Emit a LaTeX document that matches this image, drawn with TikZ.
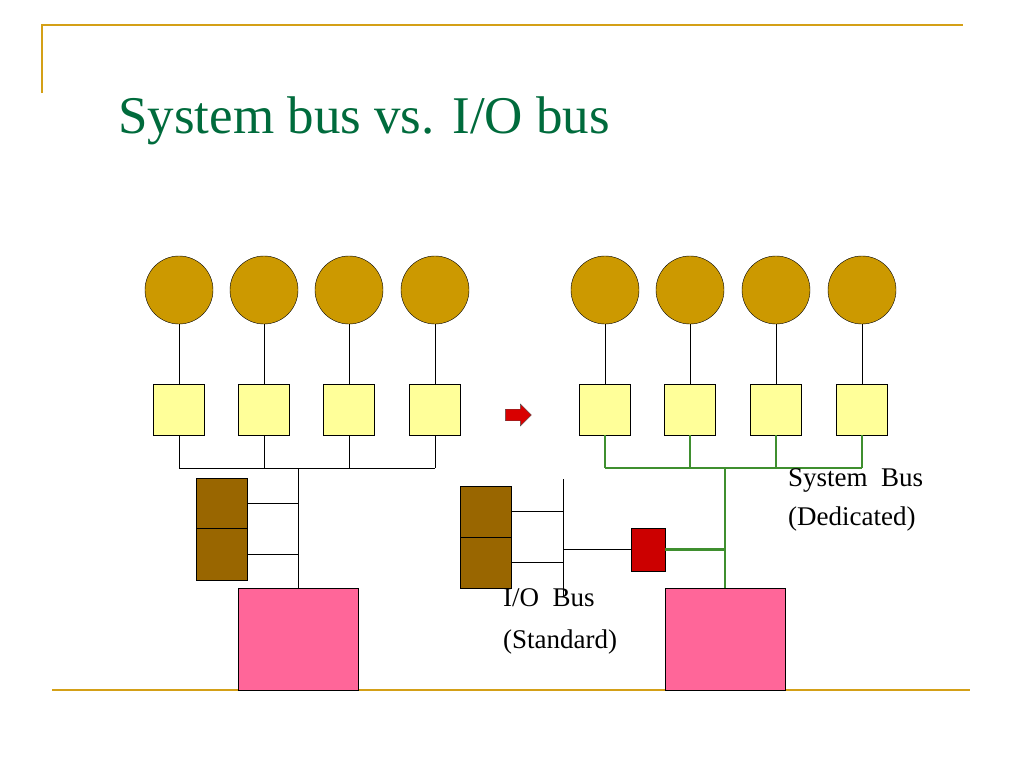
\documentclass[tikz,border=0pt]{standalone}
\usepackage{fontspec}
\setmainfont{Liberation Serif}
\usetikzlibrary{shapes.arrows, calc}
\definecolor{gold}{HTML}{CC9900}
\definecolor{pale}{HTML}{FFFF99}
\definecolor{brownish}{HTML}{996600}
\definecolor{pinky}{HTML}{FF6699}
\definecolor{titlegreen}{HTML}{006B3C}
\definecolor{busgreen}{HTML}{3F8F2F}
\definecolor{rule}{HTML}{D4A017}
\tikzstyle{cpu} = [circle, draw=black, fill=gold, minimum size=68pt, inner sep=0pt]
\tikzstyle{ctl} = [rectangle, draw=black, fill=pale, minimum size=51pt, inner sep=0pt]
\tikzstyle{dev} = [rectangle, draw=black, fill=brownish, minimum width=51pt, minimum height=51pt, inner sep=0pt]
\tikzstyle{mem} = [rectangle, draw=black, fill=pinky, minimum width=120pt, minimum height=102pt, inner sep=0pt]
\tikzstyle{bus} = [draw=busgreen, line width=2.2pt]
\tikzstyle{wire} = [thin, black]
\tikzstyle{lbl} = [font=\fontsize{27}{39}\selectfont, anchor=base west, inner sep=0pt]
\begin{document}
\begin{tikzpicture}[x=1pt, y=-1pt]
        \useasboundingbox (0,0) rectangle (1024,768);
        % slide frame
        \draw[rule, line width=1.5pt] (42,93) -- (42,25) -- (963,25);
        \draw[rule, line width=1.5pt] (52,690) -- (970,690);
        \node (T) [anchor=base west, inner sep=0pt, text=titlegreen, font=\fontsize{53}{53}\selectfont] at (118,133) {System bus vs. I/O bus};

        % left: single bus
        \foreach \i/\x in {1/179, 2/264, 3/349, 4/435} {
            \node (LC\i) [cpu] at (\x,290) {};
            \node (LS\i) [ctl] at (\x,409.5) {};
            \draw [wire] (LC\i) -- (LS\i);
            \coordinate (LB\i) at (\x,468);
            \draw [wire] (LS\i) -- (LB\i);
        }
        \draw [wire] (LB1) -- (LB4);
        \node (LD1) [dev, minimum height=50pt] at (221.5,503) {};
        \node (LD2) [dev, minimum height=52pt] at (221.5,554) {};
        \node (LM) [mem] at (298,639) {};
        \coordinate (LJ) at (298,468);
        \draw [wire] (LJ) -- (LM.north);
        \draw [wire] (LD1.east) -- (LD1.east -| LJ);
        \draw [wire] (LD2.east) -- (LD2.east -| LJ);

        % arrow
        \node (A) [single arrow, draw=black!70, fill=red!85!black, minimum height=26pt, minimum width=22pt, single arrow head extend=2pt, inner sep=2pt] at (515.5,415) {};

        % right: system bus + I/O bus
        \foreach \i/\x in {1/605, 2/690, 3/776, 4/862} {
            \node (RC\i) [cpu] at (\x,290) {};
            \node (RS\i) [ctl] at (\x,409.5) {};
            \draw [wire] (RC\i) -- (RS\i);
            \coordinate (RB\i) at (\x,468);
            \draw [bus] (RS\i) -- (RB\i);
        }
        \draw [bus] (RB1) -- (RB4);
        \node (RM) [mem] at (725,639) {};
        \coordinate (RJ) at (725,468);
        \draw [bus] (RJ) -- (RM.north);
        \node (BR) [rectangle, draw=black, fill=red!80!black, minimum width=34pt, minimum height=43pt, inner sep=0pt] at (648,549.5) {};
        \draw [bus] (BR.east) -- (BR.east -| RJ);
        \coordinate (IT) at (563,479);
        \coordinate (IB) at (563,597);
        \draw [wire] (IT) -- (IB);
        \draw [wire] (BR.west) -- (BR.west -| IT);
        \node (RD1) [dev] at (485.5,511.5) {};
        \node (RD2) [dev] at (485.5,562.5) {};
        \draw [wire] (RD1.east) -- (RD1.east -| IT);
        \draw [wire] (RD2.east) -- (RD2.east -| IT);

        % labels
        \node (SB) [lbl, align=left] at (788,525) {System\ \ Bus\\(Dedicated)};
        \node (IO) [lbl, align=left] at (503,648) {I/O\ \ Bus\\[3pt](Standard)};
    \end{tikzpicture}
\end{document}
